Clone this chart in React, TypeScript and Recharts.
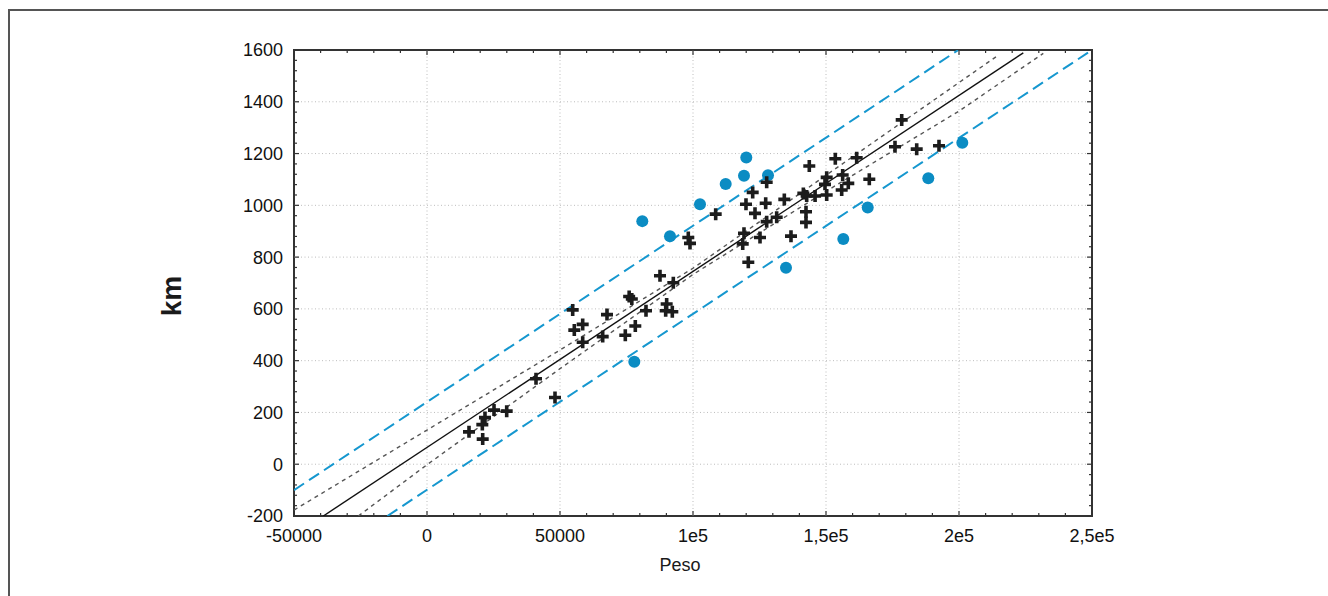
import React from 'react';
import { ScatterChart, Scatter, XAxis, YAxis, ReferenceLine, ReferenceArea } from 'recharts';

// observed points (Peso, km) inside the prediction band
const crossPeso = [
  15790, 20940, 20800, 21800, 25190, 29960, 40980, 48120, 54770, 55380,
  58530, 58530, 67670, 66050, 74550, 78310, 76000, 77000, 82330, 90100,
  89730, 92220, 92600, 87590, 98230, 98870, 108530, 122440, 127700, 119920,
  127330, 123310, 134330, 127700, 131460, 119170, 118690, 125190, 120790, 136840,
  141480, 142740, 145900, 150260, 142480, 142480, 143720, 153500, 161540, 178460,
  175940, 184100, 192480, 166280, 150260, 156270, 158380, 155900, 149620,
];
const crossKm = [
  125, 97, 153, 180, 209, 205, 330, 258, 596, 518,
  540, 471, 578, 493, 498, 534, 648, 638, 593, 619,
  593, 589, 701, 728, 876, 853, 966, 1050, 1089, 1004,
  1008, 969, 1023, 937, 954, 892, 851, 876, 780, 881,
  1046, 1036, 1036, 1040, 975, 934, 1152, 1180, 1184, 1330,
  1226, 1217, 1230, 1101, 1108, 1117, 1085, 1059, 1081,
];

// points outside / on the prediction band
const outlierPeso = [77930, 80940, 91350, 102630, 112290, 119170, 120040, 128200, 134960, 156500, 165680, 188460, 201240];
const outlierKm = [396, 939, 881, 1004, 1082, 1114, 1185, 1116, 759, 870, 992, 1105, 1242];

// regression line
const fitPeso = [-38980, 224170];
const fitKm = [-200, 1589];
// confidence band
const confUpPeso = [-50000, 0, 50000, 100000, 150000, 214770];
const confUpKm = [-177, 132, 441, 757, 1116, 1580];
const confLoPeso = [-25820, 0, 50000, 100000, 150000, 200000, 231690];
const confLoKm = [-200, -2, 369, 733, 1054, 1364, 1587];
// prediction band
const predUpPeso = [-50000, 199750];
const predUpKm = [-100, 1600];
const predLoPeso = [-14900, 250000];
const predLoKm = [-200, 1600];

const xMajor = [-50000, 0, 50000, 100000, 150000, 200000, 250000];
const xLabels = ['-50000', '0', '50000', '1e5', '1,5e5', '2e5', '2,5e5'];
const yMajor = [-200, 0, 200, 400, 600, 800, 1000, 1200, 1400, 1600];
const yLabels = ['-200', '0', '200', '400', '600', '800', '1000', '1200', '1400', '1600'];

const xTicks: number[] = [];
for (let v = -50000; v <= 250000; v += 10000) xTicks.push(v);
const yTicks: number[] = [];
for (let v = -200; v <= 1600; v += 40) yTicks.push(v);

const pts = (xs: number[], ys: number[]) => xs.map((x, i) => ({ x, y: ys[i] }));

const FONT = '"Liberation Sans", Arial, sans-serif';
const AXIS = '#333';
const BLUE = '#0b8cc3';
const DASH_BLUE = '#1597cf';

const Cross = (p: any) => {
  const { cx, cy } = p;
  if (cx == null || cy == null) return <g />;
  return (
    <path
      d={`M${cx - 6},${cy}H${cx + 6}M${cx},${cy - 6}V${cy + 6}`}
      stroke="#1c1c1c"
      strokeWidth={3.6}
      fill="none"
    />
  );
};

const Dot = (p: any) => {
  const { cx, cy } = p;
  if (cx == null || cy == null) return <g />;
  return <circle cx={cx} cy={cy} r={6} fill={BLUE} />;
};

const NoShape = () => <g />;

const tickLen = (major: boolean) => (major ? 5 : 3);

const BottomTick = (p: any) => {
  const { x, y, payload } = p;
  const i = xMajor.indexOf(payload.value);
  return (
    <g>
      <line x1={x} x2={x} y1={y} y2={y - tickLen(i >= 0)} stroke={AXIS} strokeWidth={1.2} />
      {i >= 0 && (
        <text x={x} y={y + 26} textAnchor="middle" fontSize={18} fill="#111" fontFamily={FONT}>
          {xLabels[i]}
        </text>
      )}
    </g>
  );
};

const TopTick = (p: any) => {
  const { x, y, payload } = p;
  const major = xMajor.includes(payload.value);
  return <line x1={x} x2={x} y1={y} y2={y + tickLen(major)} stroke={AXIS} strokeWidth={1.2} />;
};

const LeftTick = (p: any) => {
  const { x, y, payload } = p;
  const i = yMajor.indexOf(payload.value);
  return (
    <g>
      <line x1={x} x2={x + tickLen(i >= 0)} y1={y} y2={y} stroke={AXIS} strokeWidth={1.2} />
      {i >= 0 && (
        <text x={x - 11} y={y} dy="0.36em" textAnchor="end" fontSize={18} fill="#111" fontFamily={FONT}>
          {yLabels[i]}
        </text>
      )}
    </g>
  );
};

const RightTick = (p: any) => {
  const { x, y, payload } = p;
  const major = yMajor.includes(payload.value);
  return <line x1={x} x2={x - tickLen(major)} y1={y} y2={y} stroke={AXIS} strokeWidth={1.2} />;
};

const gridStyle = { stroke: '#bdbdbd', strokeDasharray: '1 2.5', strokeWidth: 1 };

export default function App() {
  return (
    <div style={{ position: 'absolute', left: 0, top: 0, width: 1328, height: 596, overflow: 'hidden', background: '#fff' }}>
      <div
        style={{
          position: 'absolute', left: 8, top: 9, width: 1340, height: 600,
          borderTop: '2px solid #555', borderLeft: '2px solid #555',
        }}
      />
      <div style={{ position: 'absolute', left: 0, top: 0 }}>
        <ScatterChart width={1328} height={596} margin={{ top: 49, right: 235, bottom: 50, left: 234 }}>
          <XAxis
            xAxisId="b" type="number" dataKey="x" domain={[-50000, 250000]} ticks={xTicks} interval={0}
            height={30} tickSize={0} tickMargin={0} tickLine={false} axisLine={false} tick={BottomTick}
            allowDataOverflow
          />
          <XAxis
            xAxisId="t" orientation="top" type="number" dataKey="x" domain={[-50000, 250000]} ticks={xTicks}
            interval={0} height={1} tickSize={0} tickMargin={0} tickLine={false} axisLine={false} tick={TopTick}
            allowDataOverflow
          />
          <YAxis
            yAxisId="l" type="number" dataKey="y" domain={[-200, 1600]} ticks={yTicks} interval={0}
            width={60} tickSize={0} tickMargin={0} tickLine={false} axisLine={false} tick={LeftTick}
            allowDataOverflow
          />
          <YAxis
            yAxisId="r" orientation="right" type="number" dataKey="y" domain={[-200, 1600]} ticks={yTicks}
            interval={0} width={1} tickSize={0} tickMargin={0} tickLine={false} axisLine={false} tick={RightTick}
            allowDataOverflow
          />
          {xMajor.slice(1, -1).map((v) => (
            <ReferenceLine key={'gx' + v} x={v} xAxisId="b" yAxisId="l" {...gridStyle} />
          ))}
          {yMajor.slice(1, -1).map((v) => (
            <ReferenceLine key={'gy' + v} y={v} xAxisId="b" yAxisId="l" {...gridStyle} />
          ))}
          <ReferenceArea
            xAxisId="b" yAxisId="l" x1={-50000} x2={250000} y1={-200} y2={1600}
            fill="none" fillOpacity={0} stroke={AXIS} strokeWidth={2}
          />
          <Scatter
            xAxisId="b" yAxisId="l" data={pts(predUpPeso, predUpKm)} shape={NoShape} isAnimationActive={false}
            line={{ stroke: DASH_BLUE, strokeWidth: 2, strokeDasharray: '12 6' }} lineType="joint" fill="none"
          />
          <Scatter
            xAxisId="b" yAxisId="l" data={pts(predLoPeso, predLoKm)} shape={NoShape} isAnimationActive={false}
            line={{ stroke: DASH_BLUE, strokeWidth: 2, strokeDasharray: '12 6' }} lineType="joint" fill="none"
          />
          <Scatter
            xAxisId="b" yAxisId="l" data={pts(confUpPeso, confUpKm)} shape={NoShape} isAnimationActive={false}
            line={{ stroke: '#555', strokeWidth: 1.4, strokeDasharray: '4 4' }} lineType="joint" fill="none"
          />
          <Scatter
            xAxisId="b" yAxisId="l" data={pts(confLoPeso, confLoKm)} shape={NoShape} isAnimationActive={false}
            line={{ stroke: '#555', strokeWidth: 1.4, strokeDasharray: '4 4' }} lineType="joint" fill="none"
          />
          <Scatter
            xAxisId="b" yAxisId="l" data={pts(fitPeso, fitKm)} shape={NoShape} isAnimationActive={false}
            line={{ stroke: '#111', strokeWidth: 1.4 }} lineType="joint" fill="none"
          />
          <Scatter
            xAxisId="b" yAxisId="l" data={pts(outlierPeso, outlierKm)} shape={Dot} isAnimationActive={false} fill={BLUE}
          />
          <Scatter
            xAxisId="b" yAxisId="l" data={pts(crossPeso, crossKm)} shape={Cross} isAnimationActive={false} fill="#1c1c1c"
          />
        </ScatterChart>
      </div>
      <div
        style={{
          position: 'absolute', left: 172, top: 296, transform: 'translate(-50%, -50%) rotate(-90deg)',
          fontFamily: FONT, fontWeight: 'bold', fontSize: 28, lineHeight: 1, color: '#1a1a1a', whiteSpace: 'nowrap',
        }}
      >
        km
      </div>
      <div
        style={{
          position: 'absolute', left: 680, top: 565, transform: 'translate(-50%, -50%)',
          fontFamily: FONT, fontSize: 18, lineHeight: 1, color: '#1a1a1a', whiteSpace: 'nowrap',
        }}
      >
        Peso
      </div>
    </div>
  );
}
